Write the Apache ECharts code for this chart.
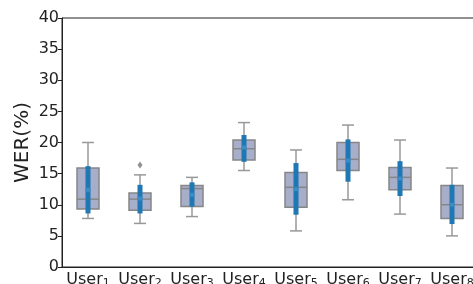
<!DOCTYPE html>
<html>
<head>
<meta charset="utf-8">
<script src="https://cdn.jsdelivr.net/npm/echarts@6/dist/echarts.min.js"></script>
<style>
  html, body { margin: 0; padding: 0; background: #fff; }
  #chart { width: 473px; height: 284px; }
</style>
</head>
<body>
<div id="chart"></div>
<script>
// users on the x axis (subscript index)
const users = ['1', '2', '3', '4', '5', '6', '7', '8']

// box plot stats, WER in %
const whiskerLow  = [7.8, 7.0, 8.1, 15.5, 5.8, 10.8, 8.5, 5.0]
const q1          = [9.3, 9.1, 9.7, 17.2, 9.6, 15.5, 12.4, 7.8]
const median      = [10.9, 10.9, 12.6, 19.0, 12.8, 17.3, 14.4, 10.0]
const q3          = [15.9, 11.9, 13.1, 20.4, 15.2, 20.0, 16.0, 13.1]
const whiskerHigh = [20.0, 14.8, 14.4, 23.2, 18.8, 22.8, 20.4, 15.9]

// blue bars: mean and spread
const meanVals = [12.4, 11.0, 11.6, 19.2, 12.5, 17.1, 14.2, 10.0]
const barLow   = [8.6, 8.6, 9.7, 16.9, 8.4, 13.7, 11.4, 6.9]
const barHigh  = [16.2, 13.2, 13.6, 21.2, 16.7, 20.5, 17.0, 13.2]

// outliers [userIndex, value]
const outliers = [[1, 16.4]]

const yTicks = [0, 40, 5]

const chart = echarts.init(document.getElementById('chart'))

const boxData = users.map((u, i) => [
  i, whiskerLow[i], q1[i], median[i], q3[i], whiskerHigh[i], barLow[i], barHigh[i], meanVals[i],
])

function renderBox(params, api) {
  const x = api.value(0)
  const p = (k) => api.coord([x, api.value(k)])
  const lo = p(1), b1 = p(2), md = p(3), b3 = p(4), hi = p(5)
  const bl = p(6), bh = p(7), mn = p(8)
  const cx = lo[0]
  const boxW = 22, capW = 12, barW = 5
  const gray = '#999'
  const edge = '#868686'
  return {
    type: 'group',
    children: [
      { type: 'line', shape: { x1: cx, y1: lo[1], x2: cx, y2: b1[1] }, style: { stroke: gray, lineWidth: 1.5 } },
      { type: 'line', shape: { x1: cx, y1: b3[1], x2: cx, y2: hi[1] }, style: { stroke: gray, lineWidth: 1.5 } },
      { type: 'line', shape: { x1: cx - capW / 2, y1: lo[1], x2: cx + capW / 2, y2: lo[1] }, style: { stroke: gray, lineWidth: 1.5 } },
      { type: 'line', shape: { x1: cx - capW / 2, y1: hi[1], x2: cx + capW / 2, y2: hi[1] }, style: { stroke: gray, lineWidth: 1.5 } },
      { type: 'rect', shape: { x: cx - boxW / 2, y: b3[1], width: boxW, height: b1[1] - b3[1] }, style: { fill: '#a7aeca', stroke: edge, lineWidth: 1.5 } },
      { type: 'line', shape: { x1: cx - boxW / 2, y1: md[1], x2: cx + boxW / 2, y2: md[1] }, style: { stroke: edge, lineWidth: 1.5 } },
      { type: 'rect', shape: { x: cx - barW / 2, y: bh[1], width: barW, height: bl[1] - bh[1] }, style: { fill: '#1f77b4' } },
      { type: 'rect', shape: { x: cx - barW / 2, y: mn[1] - 2, width: barW, height: 4 }, style: { fill: '#3b8cc4' } },
    ],
  }
}

const option = {
  animation: false,
  grid: {
    left: 62,
    right: -5,
    top: 18,
    bottom: 17,
    outerBoundsMode: 'none',
    containLabel: false,
    show: true,
    borderColor: '#222',
    borderWidth: 1,
  },
  xAxis: {
    type: 'category',
    data: users,
    boundaryGap: true,
    axisLine: { lineStyle: { color: '#222', width: 1 } },
    axisTick: { alignWithLabel: true, length: 4, lineStyle: { color: '#222' } },
    axisLabel: {
      margin: 3,
      interval: 0,
      hideOverlap: false,
      formatter: (v) => '{a|User}{s|' + v + '}',
      rich: {
        a: { fontSize: 16, fontFamily: 'DejaVu Sans', color: '#222' },
        s: { fontSize: 11, fontFamily: 'DejaVu Sans', color: '#222', verticalAlign: 'bottom', padding: [8, 0, 0, 0] },
      },
    },
    splitLine: { show: false },
  },
  yAxis: {
    type: 'value',
    min: yTicks[0],
    max: yTicks[1],
    interval: yTicks[2],
    name: 'WER(%)',
    nameLocation: 'middle',
    nameGap: 29,
    nameMoveOverlap: false,
    nameTextStyle: { fontSize: 20, fontFamily: 'DejaVu Sans', color: '#222' },
    axisLine: { show: true, lineStyle: { color: '#222', width: 1 } },
    axisTick: { show: true, length: 4, lineStyle: { color: '#222' } },
    axisLabel: { margin: 3, fontSize: 16, fontFamily: 'DejaVu Sans', color: '#222' },
    splitLine: { show: false },
  },
  series: [
    {
      type: 'custom',
      renderItem: renderBox,
      encode: { x: 0, y: [1, 5] },
      data: boxData,
      z: 2,
    },
    {
      type: 'scatter',
      symbol: 'diamond',
      symbolSize: [5, 7],
      itemStyle: { color: '#777' },
      data: outliers,
      z: 3,
    },
  ],
}

chart.setOption(option)
</script>
</body>
</html>
